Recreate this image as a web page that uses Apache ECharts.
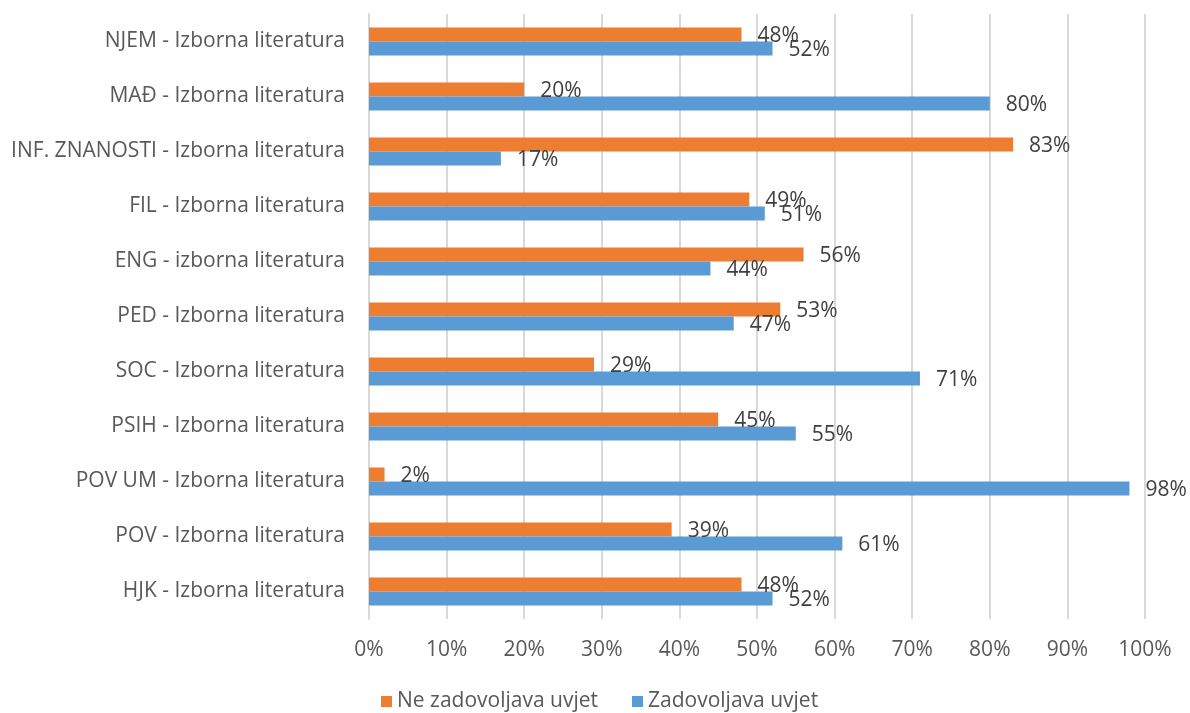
<!DOCTYPE html>
<html lang="hr">
<head>
    <meta charset="UTF-8">
    <script src="https://cdn.jsdelivr.net/npm/echarts@6/dist/echarts.min.js"></script>
    <title>Izborna literatura</title>
    <style>
        body { margin: 0; background: #fff; }
        #main { width: 1190px; height: 713px; }
    </style>
</head>
<body>
    <div id="main"></div>
    <script>
        // kategorije odozdo prema gore
        var categories = [
            'HJK - Izborna literatura',
            'POV - Izborna literatura',
            'POV UM - Izborna literatura',
            'PSIH - Izborna literatura',
            'SOC - Izborna literatura',
            'PED - Izborna literatura',
            'ENG - izborna literatura',
            'FIL - Izborna literatura',
            'INF. ZNANOSTI - Izborna literatura',
            'MAĐ - Izborna literatura',
            'NJEM - Izborna literatura'
        ];
        var neZadovoljava = [48, 39, 2, 45, 29, 53, 56, 49, 83, 20, 48];
        var zadovoljava = [52, 61, 98, 55, 71, 47, 44, 51, 17, 80, 52];
        var xTicks = [0, 10, 20, 30, 40, 50, 60, 70, 80, 90, 100];

        var font = 'Open Sans';
        var fs = 21;
        var myChart = echarts.init(document.getElementById('main'));

        var labelStyle = {
            show: true,
            position: 'right',
            distance: 16,
            offset: [0, 2],
            formatter: '{c}%',
            color: '#404040',
            fontSize: fs,
            fontFamily: font
        };

        var option = {
            animation: false,
            grid: { left: 369, right: 45, top: 14, bottom: 94 },
            legend: {
                data: ['Ne zadovoljava uvjet', 'Zadovoljava uvjet'],
                bottom: -4,
                left: 376,
                itemWidth: 11,
                itemHeight: 11,
                itemGap: 34,
                icon: 'rect',
                textStyle: { color: '#595959', fontSize: fs, fontFamily: font }
            },
            xAxis: {
                type: 'value',
                min: xTicks[0],
                max: xTicks[xTicks.length - 1],
                interval: 10,
                axisLabel: { formatter: '{value}%', color: '#595959', fontSize: fs, fontFamily: font, margin: 21 },
                splitLine: { lineStyle: { color: '#D9D9D9', width: 2 } },
                axisLine: { show: false },
                axisTick: { show: false }
            },
            yAxis: {
                type: 'category',
                data: categories,
                axisLabel: { color: '#595959', fontSize: fs, fontFamily: font, margin: 24, padding: [2, 0, 0, 0] },
                axisLine: { lineStyle: { color: '#D9D9D9', width: 2 } },
                axisTick: { show: false }
            },
            series: [{
                    name: 'Ne zadovoljava uvjet',
                    type: 'bar',
                    barWidth: 14,
                    barGap: '0%',
                    itemStyle: { color: '#ED7D31' },
                    label: labelStyle,
                    data: neZadovoljava
                },
                {
                    name: 'Zadovoljava uvjet',
                    type: 'bar',
                    barWidth: 14,
                    barGap: '0%',
                    itemStyle: { color: '#5B9BD5' },
                    label: labelStyle,
                    data: zadovoljava
                }
            ]
        };

        myChart.setOption(option);
    </script>
</body>
</html>
